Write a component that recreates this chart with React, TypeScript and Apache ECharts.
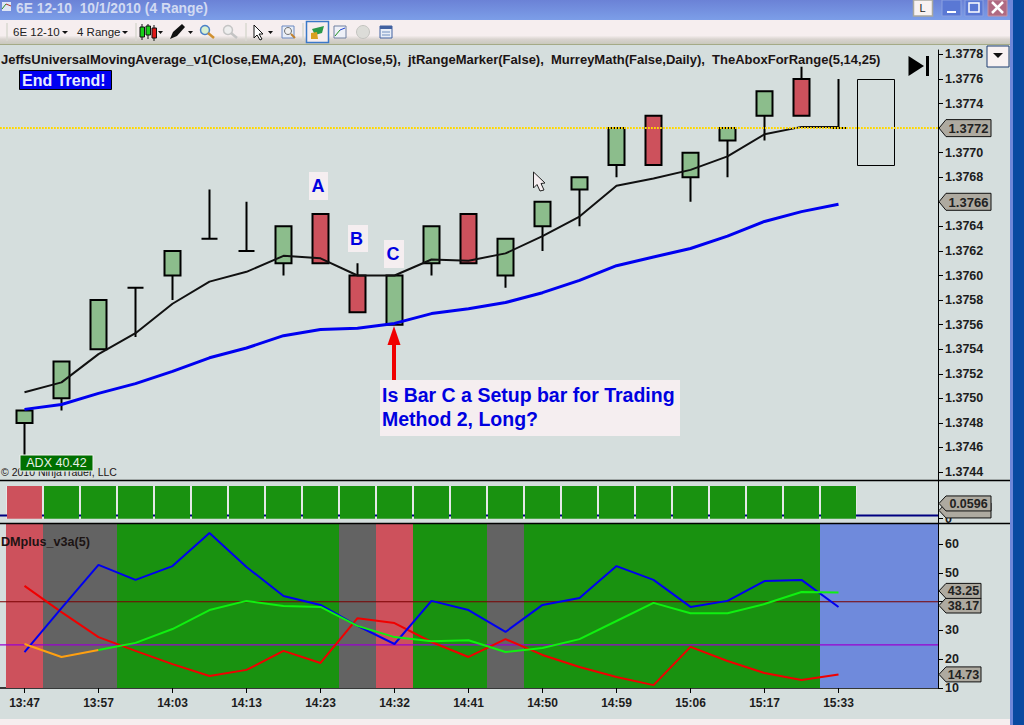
import React, { useEffect, useRef } from "react";
import * as echarts from "echarts";

const FONT = '"Liberation Sans", Arial, sans-serif';

// Chart data
const timeLabels = ["13:47", "13:57", "14:03", "14:13", "14:23", "14:32", "14:41", "14:50", "14:59", "15:06", "15:17", "15:33"];
const priceTicks = [1.3744, 1.3746, 1.3748, 1.375, 1.3752, 1.3754, 1.3756, 1.3758, 1.376, 1.3762, 1.3764, 1.3766, 1.3768, 1.377, 1.3772, 1.3774, 1.3776, 1.3778];
const opens = [1.3748, 1.375, 1.3754, 1.3759, 1.376, 1.3763, 1.3762, 1.3761, 1.3765, 1.376, 1.3756, 1.3761, 1.3765, 1.376, 1.3764, 1.3767, 1.3769, 1.3773, 1.3768, 1.3771, 1.3773, 1.3776, 1.3772];
const closes = [1.3749, 1.3753, 1.3758, 1.3759, 1.3762, 1.3763, 1.3762, 1.3764, 1.3761, 1.3757, 1.376, 1.3764, 1.3761, 1.3763, 1.3766, 1.3768, 1.3772, 1.3769, 1.377, 1.3772, 1.3775, 1.3773, 1.3772];
const lows = [1.3745, 1.3749, 1.3754, 1.3755, 1.3758, 1.3763, 1.3762, 1.376, 1.3761, 1.3757, 1.3756, 1.376, 1.3761, 1.3759, 1.3762, 1.3764, 1.3768, 1.3769, 1.3766, 1.3768, 1.3771, 1.3773, 1.3772];
const highs = [1.3749, 1.3753, 1.3758, 1.3759, 1.3762, 1.3767, 1.3766, 1.3764, 1.3765, 1.3761, 1.376, 1.3764, 1.3765, 1.3763, 1.3766, 1.3768, 1.3772, 1.3773, 1.377, 1.3772, 1.3775, 1.3777, 1.3776];
const ema5 = [1.37505, 1.37513, 1.37536, 1.37553, 1.37577, 1.37595, 1.37603, 1.37616, 1.37614, 1.376, 1.376, 1.37613, 1.37612, 1.37618, 1.37632, 1.37648, 1.37673, 1.37679, 1.37686, 1.37697, 1.37715, 1.37721, 1.37721];
const ema20 = [1.37491, 1.37495, 1.37504, 1.37512, 1.37522, 1.37533, 1.37541, 1.37551, 1.37556, 1.37557, 1.37561, 1.37569, 1.37573, 1.37578, 1.37586, 1.37596, 1.37608, 1.37615, 1.37622, 1.37632, 1.37644, 1.37652, 1.37658];
const lastPrice = 1.3772;
const priceTags = [1.3772, 1.3766];
const aboxRange = [22.5, 23.5, 1.3776, 1.3769];

const midLevel = 0.0596;
const midBarHeight = 0.6;
const midBarStates = ["red", "green", "green", "green", "green", "green", "green", "green", "green", "green", "green", "green", "green", "green", "green", "green", "green", "green", "green", "green", "green", "green", "green"];

const dmPlus = [22.5, 37.8, 52.8, 47.6, 52.4, 63.9, 52.1, 42, 38.9, 31.6, 25.3, 40.3, 37.1, 29.5, 38.9, 41.3, 52.4, 47.6, 38.2, 40.3, 47.2, 47.6, 38.17];
const dmMinus = [45.5, 36.4, 27.7, 22.9, 18.3, 14.2, 16.3, 22.9, 18.7, 34.3, 32.6, 26, 20.8, 27, 21.5, 17.3, 13.8, 11, 24.3, 19.4, 15.2, 12.8, 14.73];
const adx = [25.3, 20.8, 23.2, 25.7, 30.5, 37.1, 40.3, 38.5, 38.2, 31.6, 27.7, 26.3, 26.6, 22.5, 23.9, 27, 33.3, 39.6, 36, 36, 39.2, 43.4, 43.25];
const adxRisingFrom = 2;
const dmLevels = [40, 25];
const dmTags = [14.73, 38.17, 43.25];
const dmLabels = [10, 20, 30, 50, 60];
const bandEdges = [-0.5, 0.5, 2.5, 8.5, 9.5, 10.5, 12.5, 13.5, 21.5];
const bandStates = ["red", "gray", "green", "gray", "red", "green", "gray", "green", "blue"];

// Styles and scales
const colors: Record<string, string> = { red: "#cd515c", gray: "#636363", green: "#199210", blue: "#6f8adc" };
const PANEL = "#d5dedd";
const xMin = -0.662;
const xMax = 24.689;
const CHART_R = 938;

const pair = (arr: number[], from = 0) => arr.map((v, i) => [i + from, v]);

function tagSeries(axis: number, values: number[], texts: string[], right: number, size: number, offsets: number[]) {
  return {
    type: "custom",
    xAxisIndex: axis,
    yAxisIndex: axis,
    z: 20,
    silent: true,
    data: values.map((v) => [xMax, v]),
    renderItem: (p: any, api: any) => {
      const c = api.coord([api.value(0), api.value(1)]);
      const y = c[1] + offsets[p.dataIndex];
      const h = size > 12.5 ? 8.5 : 7.5;
      const children: any[] = [
        {
          type: "polygon",
          shape: { points: [[c[0] + 1, y], [c[0] + 8, y - h], [right, y - h], [right, y + h], [c[0] + 8, y + h]] },
          style: { fill: "#aeaaa0", stroke: "#111", lineWidth: 1 },
        },
      ];
      if (texts[p.dataIndex]) {
        children.push({
          type: "text",
          style: { text: texts[p.dataIndex], x: (c[0] + 8 + right) / 2, y: y + 0.5, fill: "#222", font: `bold ${size}px ${FONT}`, align: "center", verticalAlign: "middle" },
        });
      }
      return { type: "group", children };
    },
  };
}

const R = (x: number, y: number, w: number, h: number, fill: string, z = 50, stroke?: string, lineWidth = 1) => ({
  type: "rect", z, silent: true, shape: { x, y, width: w, height: h }, style: { fill, stroke, lineWidth },
});
const T = (text: string, x: number, y: number, font: string, fill: string, z = 60, align = "left") => ({
  type: "text", z, silent: true, style: { text, x, y, font: `${font} ${FONT}`, fill, align, verticalAlign: "middle" },
});
const P = (points: number[][], fill: string, z = 60, stroke?: string) => ({
  type: "polygon", z, silent: true, shape: { points }, style: { fill, stroke, lineWidth: 1 },
});
const L = (x1: number, y1: number, x2: number, y2: number, stroke: string, lineWidth = 1, z = 60) => ({
  type: "line", z, silent: true, shape: { x1, y1, x2, y2 }, style: { stroke, lineWidth },
});

const chrome: any[] = [
  // title bar and toolbar
  {
    type: "rect", z: 50, silent: true, shape: { x: 0, y: 0, width: 1010, height: 20 },
    style: { fill: new echarts.graphic.LinearGradient(0, 0, 0, 1, [{ offset: 0, color: "#6b82d6" }, { offset: 1, color: "#7c9ee8" }]) },
  },
  {
    type: "rect", z: 50, silent: true, shape: { x: 0, y: 20, width: 1010, height: 24 },
    style: { fill: new echarts.graphic.LinearGradient(0, 0, 0, 1, [{ offset: 0, color: "#f6eeef" }, { offset: 0.65, color: "#f6eeef" }, { offset: 0.8, color: "#d9d3cf" }, { offset: 1, color: "#c9c9bd" }]) },
  },
  L(0, 44.5, 1010, 44.5, "#a4aa86", 1, 51),
  R(1010, 0, 3, 725, "#6f87d8", 50),
  R(1013, 0, 11, 725, "#0a4aa0", 50),
  R(0, 719, 1010, 6, "#f6eeef", 50),
  // title
  R(2, 2, 9, 9, "#dfe6f5", 60),
  L(2, 9, 6, 4, "#2a8a2a", 1, 61),
  L(6, 4, 11, 6, "#b03030", 1, 61),
  T("6E 12-10  10/1/2010 (4 Range)", 16, 8, "bold 13.8px", "#d2daf2"),
  // window buttons
  R(913.5, 0, 19, 16, "#f8f2f2", 60, "#a8a8a0", 1.5),
  T("L", 922.5, 8, "11px", "#222", 61, "center"),
  R(942, 0, 19, 16, "#5a78d4", 60, "#8aa0e0"),
  R(947, 11, 9, 2, "#ffffff", 61),
  R(965, 0, 18, 16, "#5a78d4", 60, "#8aa0e0"),
  R(969, 3, 10, 9, "none", 61, "#ffffff", 1.5),
  R(988, 0, 19, 16, "#b06a82", 60, "#c894a4"),
  L(992, 2, 1003, 13, "#ffffff", 2.5, 61),
  L(1003, 2, 992, 13, "#ffffff", 2.5, 61),
  // toolbar items
  L(7, 23, 7, 41, "#d8d8d0", 1.5),
  T("6E 12-10", 13, 32, "11.5px", "#222"),
  P([[62, 31], [68, 31], [65, 34]], "#111"),
  T("4 Range", 77, 32, "11.5px", "#222"),
  P([[122, 31], [128, 31], [125, 34]], "#111"),
  L(136, 23, 136, 41, "#d8d8d0", 1.5),
  L(142, 24, 142, 40, "#111", 1), R(140, 27, 4.5, 10, "#19d019", 61, "#111"),
  L(148, 24, 148, 39, "#111", 1), R(146, 26, 4.5, 9, "#19d019", 61, "#111"),
  L(154, 25, 154, 41, "#111", 1), R(152, 28, 4.5, 10, "#e01818", 61, "#111"),
  P([[158, 31], [163, 31], [160.5, 34]], "#111"),
  P([[170, 39], [173, 32], [182, 24], [185, 27], [177, 36]], "#111"),
  P([[188, 31], [193, 31], [190.5, 34]], "#111"),
  { type: "circle", z: 60, silent: true, shape: { cx: 205, cy: 30, r: 4.5 }, style: { fill: "#d8f0d0", stroke: "#4a80c8", lineWidth: 1.5 } },
  L(208, 33, 214, 38, "#d09030", 2.5),
  { type: "circle", z: 60, silent: true, shape: { cx: 228, cy: 30, r: 4.5 }, style: { fill: "#eeeeee", stroke: "#c4c4c4", lineWidth: 1.5 } },
  L(231, 33, 237, 38, "#c4c4c4", 2.5),
  L(246, 23, 246, 41, "#d8d8d0", 1.5),
  P([[254, 25], [254, 38], [257, 35], [260, 40], [262, 39], [259, 34], [263, 34]], "#ffffff", 60, "#111"),
  P([[268, 31], [273, 31], [270.5, 34]], "#111"),
  R(282, 26, 12, 12, "#e8eef8", 60, "#6a88c0"),
  { type: "circle", z: 61, silent: true, shape: { cx: 288, cy: 31, r: 3.5 }, style: { fill: "#f0f0f0", stroke: "#707070", lineWidth: 1 } },
  L(291, 34, 295, 38, "#c08030", 2),
  L(303, 23, 303, 41, "#d8d8d0", 1.5),
  R(306.5, 21.5, 22, 21, "#f6eeef", 60, "#3a78c8", 1.5),
  P([[312, 29], [324, 26], [322, 33], [315, 35]], "#2a9a4a", 61),
  P([[311, 33], [317, 32], [318, 39], [311, 39]], "#d8a020", 61),
  R(334, 26, 12, 12, "#eef0f8", 60, "#7080a0"),
  L(335, 36, 340, 30, "#209020", 1, 61),
  L(340, 30, 345, 28, "#2040d0", 1, 61),
  { type: "circle", z: 60, silent: true, shape: { cx: 363, cy: 32, r: 6.5 }, style: { fill: "#dcdcd8", stroke: "#c4c4c0", lineWidth: 1 } },
  R(380, 26, 12, 12, "#e8eef8", 60, "#4060a0"),
  R(380, 26, 12, 3, "#4060a0", 61),
  L(382, 32, 390, 32, "#7090c0", 1, 61),
  L(382, 35, 390, 35, "#7090c0", 1, 61),
  // dropdown and jump button
  R(987, 46, 22, 21, "#f8f2f2", 60, "#1c3c70", 1),
  P([[993, 53], [1003, 53], [998, 58]], "#111", 61),
  P([[908.5, 56], [924, 66], [908.5, 76]], "#000"),
  R(926, 56, 3, 20, "#000", 60),
  // labels
  T("JeffsUniversalMovingAverage_v1(Close,EMA,20),  EMA(Close,5),  jtRangeMarker(False),  MurreyMath(False,Daily),  TheAboxForRange(5,14,25)", 1, 59, "bold 13px", "#1c1414"),
  R(19.5, 70.5, 92, 19, "#0000f0", 60, "#000", 1),
  T("End Trend!", 22, 80, "bold 16px", "#e8ecff", 61),
  R(309, 172, 19, 28, "#f5eef0", 60),
  T("A", 318, 186, "bold 18px", "#0000e0", 61, "center"),
  R(348, 225, 20, 27, "#f5eef0", 60),
  T("B", 356.5, 239, "bold 18px", "#0000e0", 61, "center"),
  R(384, 240, 20, 28, "#f5eef0", 60),
  T("C", 393, 254, "bold 18px", "#0000e0", 61, "center"),
  R(380, 380, 300, 56, "#f5eef0", 60),
  T("Is Bar C a Setup bar for Trading", 382, 395, "bold 19.5px", "#0000e0", 61),
  T("Method 2, Long?", 382, 419, "bold 19.5px", "#0000e0", 61),
  // arrow
  R(392, 344, 4, 36, "#f00000", 62),
  P([[394, 326], [400.5, 345], [387.5, 345]], "#f00000", 62),
  // cursor
  P([[533.5, 172], [533.5, 188], [537, 184.5], [540, 191], [544, 190], [541, 183.5], [545, 183]], "#f5eef0", 62, "#222"),
  T("© 2010 NinjaTrader, LLC", 1, 471.5, "10.5px", "#1c1414", 60),
  R(20, 455, 73, 16, "#007000", 61, "#f0f0f0", 1),
  T("ADX 40.42", 56.5, 463, "12.5px", "#e8f0e8", 62, "center"),
  T("DMplus_v3a(5)", 1, 542, "bold 12.6px", "#1c1414"),
  // separators
  L(0, 480.5, 1010, 480.5, "#000", 1.5, 55),
  L(0, 523.5, 1010, 523.5, "#000", 1.5, 55),
];

export default function App() {
  const ref = useRef<HTMLDivElement>(null);
  useEffect(() => {
    const chart = echarts.init(ref.current!, undefined, { renderer: "svg" });
    const xAxisBase = { type: "value", min: xMin, max: xMax, splitLine: { show: false } };
    const yBase = {
      type: "value", position: "right", scale: true, splitLine: { show: false },
      axisLine: { show: true, onZero: false, lineStyle: { color: "#000", width: 1 } },
      axisTick: { show: true, length: 5, lineStyle: { color: "#000", width: 1 } },
    };
    const labelBase = { color: "#1c1c1c", fontFamily: FONT, fontWeight: "bold", fontSize: 12.5, margin: 7, showMinLabel: true, showMaxLabel: true };
    const tickIndex = timeLabels.map((_, i) => i * 2);
    chart.setOption({
      animation: false,
      backgroundColor: PANEL,
      graphic: { elements: chrome },
      grid: [
        { left: 0, top: 50, width: CHART_R, height: 430 },
        { left: 0, top: 480, width: CHART_R, height: 43 },
        { left: 0, top: 523, width: CHART_R, height: 165 },
      ],
      xAxis: [
        { ...xAxisBase, gridIndex: 0, show: false },
        { ...xAxisBase, gridIndex: 1, show: false },
        {
          ...xAxisBase, gridIndex: 2, position: "bottom",
          axisLine: { show: true, onZero: false, lineStyle: { color: "#000", width: 1.5 } },
          axisTick: { show: true, length: 5, customValues: tickIndex, lineStyle: { color: "#000", width: 1 } },
          axisLabel: { customValues: tickIndex, formatter: (v: number) => timeLabels[Math.round(v / 2)] ?? "", color: "#1c1c1c", fontFamily: FONT, fontWeight: "bold", fontSize: 12, margin: 9 },
        },
      ],
      yAxis: [
        {
          ...yBase, gridIndex: 0, min: 1.374335, max: 1.377836,
          axisTick: { ...yBase.axisTick, customValues: priceTicks },
          axisLabel: { ...labelBase, customValues: priceTicks.filter((v) => !priceTags.includes(v)), formatter: (v: number) => v.toFixed(4) },
        },
        {
          ...yBase, gridIndex: 1, min: -0.0789, max: 0.7101,
          axisTick: { ...yBase.axisTick, customValues: [0] },
          axisLabel: { ...labelBase, customValues: [0], formatter: () => "0" },
        },
        {
          ...yBase, gridIndex: 2, min: 10, max: 67.39, interval: 10,
          axisLabel: { ...labelBase, customValues: dmLabels },
        },
      ],
      series: [
        // main panel
        {
          type: "candlestick", name: "6E 12-10", xAxisIndex: 0, yAxisIndex: 0, z: 3, barWidth: 16, clip: false,
          data: opens.map((o, i) => [i, o, closes[i], lows[i], highs[i]]),
          itemStyle: { color: "#8cbd8c", color0: "#cd515c", borderColor: "#000", borderColor0: "#000", borderColorDoji: "#000", borderWidth: 2 },
        },
        {
          type: "custom", name: "TheAboxForRange", xAxisIndex: 0, yAxisIndex: 0, z: 3, silent: true,
          data: [aboxRange],
          encode: { x: [0, 1], y: [2, 3] },
          renderItem: (_: any, api: any) => {
            const a = api.coord([api.value(0), api.value(2)]);
            const b = api.coord([api.value(1), api.value(3)]);
            return { type: "rect", shape: { x: Math.round(a[0]) + 0.5, y: Math.round(a[1]) + 0.5, width: Math.round(b[0] - a[0]), height: Math.round(b[1] - a[1]) }, style: { fill: "none", stroke: "#000", lineWidth: 1 } };
          },
        },
        { type: "line", name: "EMA(Close,5)", xAxisIndex: 0, yAxisIndex: 0, z: 4, symbol: "none", data: pair(ema5), lineStyle: { color: "#111", width: 2 } },
        { type: "line", name: "EMA(Close,20)", xAxisIndex: 0, yAxisIndex: 0, z: 4, symbol: "none", data: pair(ema20), lineStyle: { color: "#0000f0", width: 3 } },
        { type: "line", name: "Last", xAxisIndex: 0, yAxisIndex: 0, z: 5, symbol: "none", data: [[xMin, lastPrice], [xMax, lastPrice]], lineStyle: { color: "#ffd700", width: 2, type: [1.8, 1.2] } },
        tagSeries(0, priceTags, priceTags.map((v) => v.toFixed(4)), 991, 13, [0, 0]),

        // middle panel
        {
          type: "custom", name: "gaps", xAxisIndex: 1, yAxisIndex: 1, z: 1, silent: true,
          data: midBarStates.map((_, i) => [i, midBarHeight]),
          renderItem: (_: any, api: any) => {
            const a = api.coord([api.value(0), api.value(1)]);
            const b = api.coord([api.value(0), 0]);
            return { type: "rect", shape: { x: a[0] - 18.5, y: a[1], width: 37, height: b[1] - a[1] }, style: { fill: "#e6e9e8" } };
          },
        },
        { type: "line", name: "level", xAxisIndex: 1, yAxisIndex: 1, z: 2, symbol: "none", data: [[xMin, midLevel], [xMax, midLevel]], lineStyle: { color: "#000080", width: 2 } },
        {
          type: "bar", name: "state", xAxisIndex: 1, yAxisIndex: 1, z: 3, barWidth: 35,
          data: midBarStates.map((s, i) => ({ value: [i, midBarHeight], itemStyle: { color: colors[s] } })),
        },
        tagSeries(1, [midLevel, midLevel], ["", midLevel.toFixed(4)], 991, 12.5, [-5, -12]),

        // lower panel
        {
          type: "custom", name: "bands", xAxisIndex: 2, yAxisIndex: 2, z: 1, silent: true,
          data: bandStates.map((_, i) => [bandEdges[i], bandEdges[i + 1] ?? xMax]),
          encode: { x: [0, 1] },
          renderItem: (p: any, api: any) => {
            const a = api.coord([api.value(0), 10]);
            const b = api.coord([api.value(1), 10]);
            return { type: "rect", shape: { x: a[0], y: p.coordSys.y, width: b[0] - a[0], height: p.coordSys.height }, style: { fill: colors[bandStates[p.dataIndex]] } };
          },
        },
        ...dmLevels.map((lv, i) => ({
          type: "line", name: `level${lv}`, xAxisIndex: 2, yAxisIndex: 2, z: 2, symbol: "none",
          data: [[xMin, lv], [xMax, lv]], lineStyle: { color: i === 0 ? "#7a0000" : "#9a00d0", width: 1.2 },
        })),
        { type: "line", name: "DM-", xAxisIndex: 2, yAxisIndex: 2, z: 3, symbol: "none", data: pair(dmMinus), lineStyle: { color: "#f00000", width: 2 } },
        { type: "line", name: "DM+", xAxisIndex: 2, yAxisIndex: 2, z: 4, symbol: "none", data: pair(dmPlus), lineStyle: { color: "#0000f0", width: 2 } },
        { type: "line", name: "ADX falling", xAxisIndex: 2, yAxisIndex: 2, z: 5, symbol: "none", data: pair(adx.slice(0, adxRisingFrom + 1)), lineStyle: { color: "#ffa010", width: 2 } },
        { type: "line", name: "ADX", xAxisIndex: 2, yAxisIndex: 2, z: 5, symbol: "none", data: pair(adx.slice(adxRisingFrom), adxRisingFrom), lineStyle: { color: "#10f010", width: 2 } },
        tagSeries(2, dmTags, dmTags.map((v) => v.toFixed(2)), 981, 12.5, [0, -1.5, -1.5]),
      ],
    });
    return () => chart.dispose();
  }, []);
  return <div ref={ref} style={{ position: "absolute", left: 0, top: 0, width: 1024, height: 725 }} />;
}
